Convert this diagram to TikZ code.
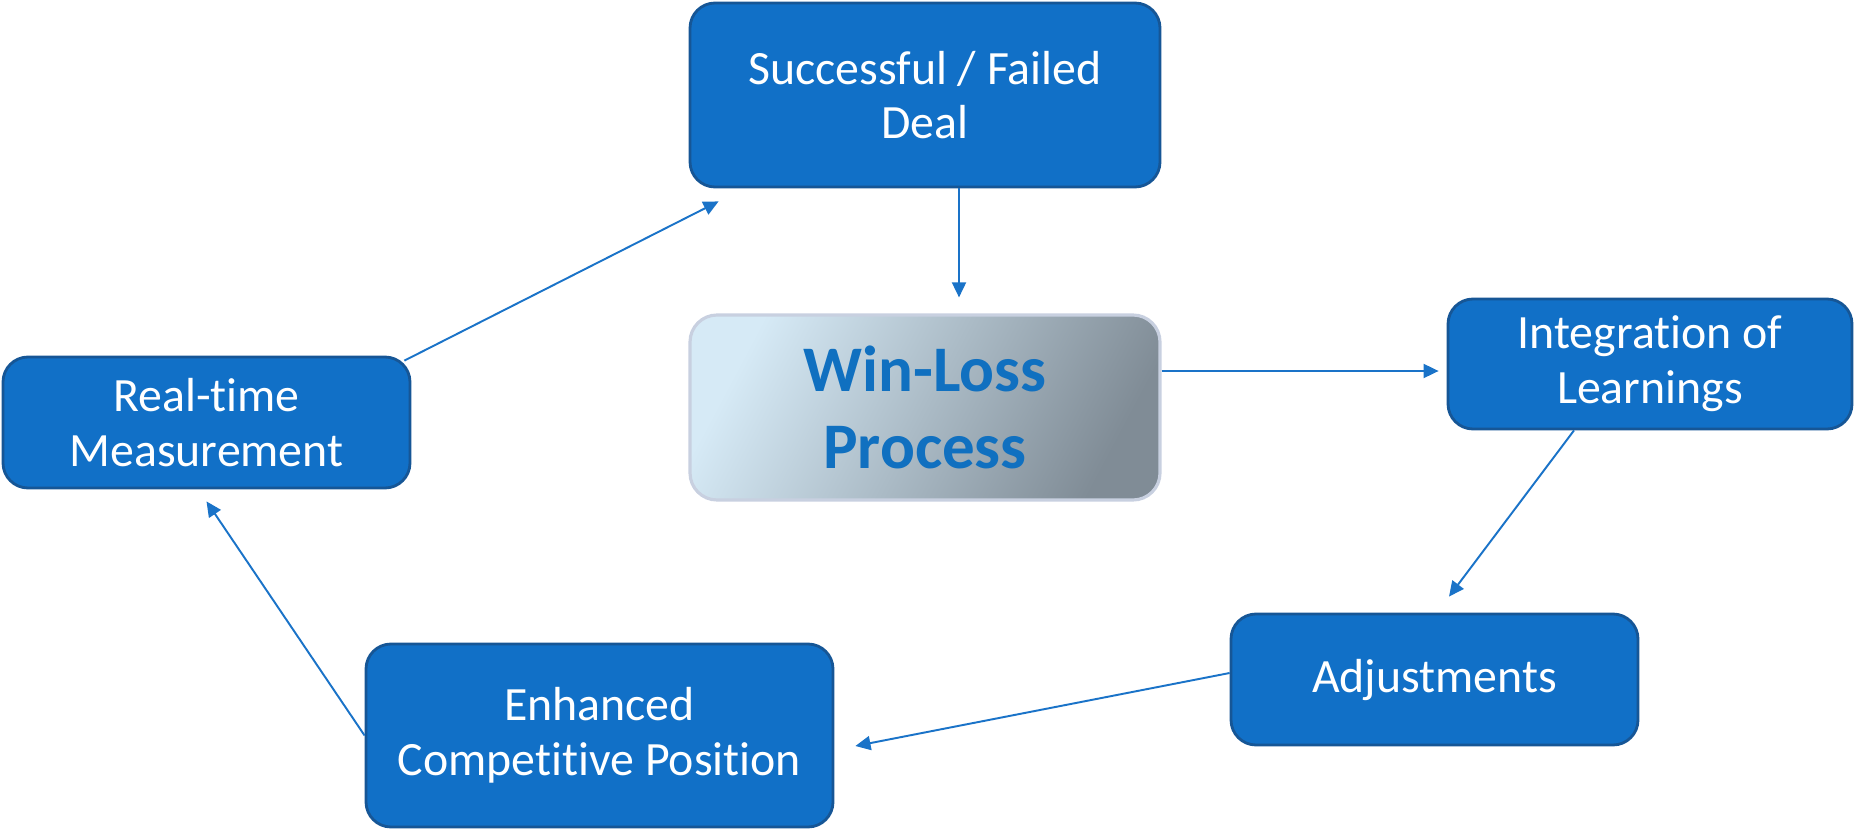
\documentclass[tikz,border=0pt]{standalone}
\usepackage{fontspec}
\setmainfont{Carlito}[Ligatures=NoCommon]
\usepackage{xcolor}
\usepackage{tikz}
\usetikzlibrary{arrows.meta}

\definecolor{boxblue}{RGB}{17,112,199}
\definecolor{boxedge}{RGB}{22,86,150}
\definecolor{linkblue}{RGB}{26,115,200}
\definecolor{titleblue}{RGB}{16,112,192}

\begin{document}
\begin{tikzpicture}[
  stage/.style={draw=boxedge,line width=0.8pt,fill=boxblue,rounded corners=0.25cm,
    text=white,align=center,inner sep=0pt,font=\fontsize{13.6}{15.6}\selectfont},
  hub/.style={draw={rgb,255:red,200;green,208;blue,224},line width=0.9pt,rounded corners=0.27cm,
    left color={rgb,255:red,214;green,234;blue,246},middle color={rgb,255:red,186;green,204;blue,216},
    right color={rgb,255:red,128;green,140;blue,150},shading angle=62,
    text=titleblue,align=center,inner sep=0pt,font=\fontsize{18.5}{21.9}\selectfont\bfseries},
  flow/.style={draw=linkblue,line width=0.55pt,-{Triangle[length=4.3pt,width=4pt]}}
]
\useasboundingbox (0,0) rectangle (18.54,8.28);

% centre and cycle boxes
\node[hub,minimum width=4.70cm,minimum height=1.85cm] (winloss) at (9.25,4.205) {Win-Loss\\Process};
\node[stage,minimum width=4.70cm,minimum height=1.84cm] (deal) at (9.25,7.33) {Successful / Failed\\Deal};
\node[stage,minimum width=4.04cm,minimum height=1.30cm] (integ) at (16.50,4.64) {Integration of\\Learnings};
\node[stage,minimum width=4.07cm,minimum height=1.31cm] (adjust) at (14.345,1.485) {Adjustments};
\node[stage,minimum width=4.67cm,minimum height=1.83cm] (enhanced) at (5.995,0.925) {Enhanced\\Competitive Position};
\node[stage,minimum width=4.07cm,minimum height=1.31cm] (realtime) at (2.065,4.055) {Real-time\\Measurement};

% arrows round the cycle
\draw[flow] ([xshift=3.4mm]deal.south) -- ([xshift=3.4mm,yshift=1.6mm]winloss.north);
\draw[flow] ([yshift=3.65mm]winloss.east) -- ([xshift=-0.8mm,yshift=3.65mm]winloss.east -| integ.west);
\draw[flow] ([xshift=-7.6mm]integ.south) -- ([xshift=1.45mm,yshift=1.6mm]adjust.north);
\draw[flow] ([yshift=0.65mm]adjust.west) -- ([xshift=2.1mm,yshift=-1.05mm]enhanced.east);
\draw[flow] (enhanced.west) -- ([yshift=-1.2mm]realtime.south);
\draw[flow] ([xshift=-0.7mm,yshift=-0.5mm]realtime.north east) -- ([xshift=3mm,yshift=-1.3mm]deal.south west);
\end{tikzpicture}
\end{document}
